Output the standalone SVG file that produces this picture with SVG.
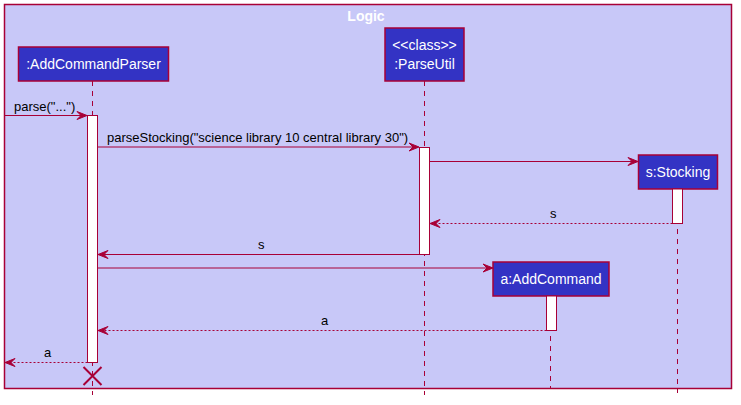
<svg xmlns="http://www.w3.org/2000/svg" width="741" height="405" viewBox="0 0 741 405">
<defs>
<style>
.box{fill:#3333C4;stroke:#A80036;stroke-width:1.5}
.bt{font-family:"Liberation Sans",Arial,sans-serif;font-size:14px;fill:#FFFFFF;text-anchor:middle}
.lt{font-family:"Liberation Sans",Arial,sans-serif;font-size:13px;fill:#000000}
.life{stroke:#A80036;stroke-width:1;stroke-dasharray:5,5;fill:none}
.act{fill:#FFFFFF;stroke:#A80036;stroke-width:1}
.msg{stroke:#A80036;stroke-width:1;fill:none}
.ret{stroke:#A80036;stroke-width:1;stroke-dasharray:2,2;fill:none}
.ah{fill:#A80036;stroke:#A80036;stroke-width:1}
</style>
</defs>
<rect x="4.5" y="4.5" width="727" height="384" fill="#C8C8F8" stroke="#A80036" stroke-width="1.5"/>
<text x="366" y="21" font-family="Liberation Sans,Arial,sans-serif" font-size="14" font-weight="bold" fill="#FFFFFF" text-anchor="middle">Logic</text>

<g id="lifelines">
<line class="life" x1="92.5" y1="81" x2="92.5" y2="395"/>
<line class="life" x1="424.5" y1="81" x2="424.5" y2="395"/>
<line class="life" x1="677.5" y1="189" x2="677.5" y2="393"/>
<line class="life" x1="550.5" y1="296" x2="550.5" y2="389"/>
</g>

<g id="AddCommandParser">
<rect class="box" x="18.5" y="47" width="150" height="34"/>
<text class="bt" x="93.5" y="69">:AddCommandParser</text>
<rect class="act" x="87.5" y="115.5" width="10" height="247"/>
</g>

<g id="ParseUtil">
<rect class="box" x="385" y="28" width="79" height="53"/>
<text class="bt" x="424.5" y="50">&lt;&lt;class&gt;&gt;</text>
<text class="bt" x="424.5" y="69">:ParseUtil</text>
<rect class="act" x="419.5" y="147.5" width="10" height="107"/>
</g>

<g id="Stocking">
<rect class="box" x="638.5" y="155" width="79" height="34"/>
<text class="bt" x="678" y="177">s:Stocking</text>
<rect class="act" x="672.5" y="189" width="10" height="34.5"/>
</g>

<g id="AddCommand">
<rect class="box" x="493" y="262" width="116" height="34"/>
<text class="bt" x="551" y="284">a:AddCommand</text>
<rect class="act" x="546.5" y="296" width="10" height="34.5"/>
</g>

<g id="connectors">
<line class="msg" x1="4" y1="115.5" x2="86" y2="115.5"/>
<polygon class="ah" points="87,115.5 77,111.5 81,115.5 77,119.5"/>
<text class="lt" x="14" y="111">parse("...")</text>

<line class="msg" x1="97.5" y1="147" x2="418" y2="147"/>
<polygon class="ah" points="419,147 409,143 413,147 409,151"/>
<text class="lt" x="107" y="142">parseStocking("science library 10 central library 30")</text>

<line class="msg" x1="429.5" y1="161.5" x2="637" y2="161.5"/>
<polygon class="ah" points="638,161.5 628,157.5 632,161.5 628,165.5"/>

<line class="ret" x1="672.5" y1="223.5" x2="431" y2="223.5"/>
<polygon class="ah" points="430,223.5 440,219.5 436,223.5 440,227.5"/>
<text class="lt" x="550" y="218">s</text>

<line class="msg" x1="419.5" y1="254.5" x2="99" y2="254.5"/>
<polygon class="ah" points="98,254.5 108,250.5 104,254.5 108,258.5"/>
<text class="lt" x="258" y="249">s</text>

<line class="msg" x1="97.5" y1="268" x2="492" y2="268"/>
<polygon class="ah" points="493,268 483,264 487,268 483,272"/>

<line class="ret" x1="546.5" y1="330.5" x2="99" y2="330.5"/>
<polygon class="ah" points="98,330.5 108,326.5 104,330.5 108,334.5"/>
<text class="lt" x="321" y="325">a</text>

<line class="ret" x1="87.5" y1="362.5" x2="6" y2="362.5"/>
<polygon class="ah" points="5,362.5 15,358.5 11,362.5 15,366.5"/>
<text class="lt" x="44" y="357">a</text>

<path d="M83.5,367 L101.5,385 M101.5,367 L83.5,385" stroke="#A80036" stroke-width="2" fill="none"/>
</g>
</svg>
